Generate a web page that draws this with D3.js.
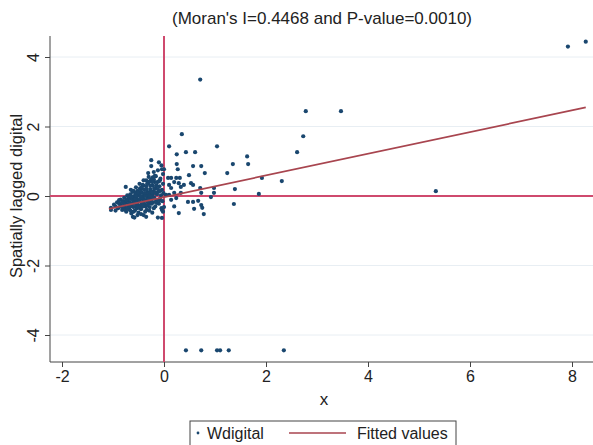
<!DOCTYPE html>
<html>
<head>
<meta charset="utf-8">
<script src="https://cdn.jsdelivr.net/npm/d3@7"></script>
<style>
  body { margin: 0; background: #fff; }
  text { font-family: "Liberation Sans", Arial, Helvetica, sans-serif; fill: #222; }
</style>
</head>
<body>
<div id="container"></div>
<script>
/*** DATA ***/
const titleText = "(Moran's I=0.4468 and P-value=0.0010)";
const xTicks = [-2, 0, 2, 4, 6, 8];
const yTicks = [-4, -2, 0, 2, 4];
const gridY = [-4, -2, 2, 4];

// Wdigital scatter: [x, spatially lagged digital]
const pointsLeft = [
  [-0.25,1.03],[-0.25,0.86],[-0.10,0.97],[-0.31,0.66],[-0.20,0.69],[-0.12,0.74],[-0.04,0.77],[-0.02,0.63],
  [-0.22,0.54],[-0.16,0.57],[-0.75,0.26],[-0.05,0.88],[-0.35,0.45],[-0.28,0.42],[-0.40,0.30],[-0.18,0.40],
  [-0.08,0.45],[-0.55,0.25],[-0.60,0.15],[-0.45,0.20],
  [-1.04,-0.34],[-1.04,-0.40],[-0.98,-0.25],[-0.95,-0.30],[-0.92,-0.18],[-0.90,-0.35],[-0.88,-0.22],
  [-0.85,-0.10],[-0.84,-0.28],[-0.82,-0.40],[-0.80,-0.15],[-0.78,-0.05],[-0.77,-0.32],[-0.75,-0.20],
  [-0.74,-0.45],[-0.72,0.02],[-0.71,-0.12],[-0.70,-0.28],
  [-0.68,-0.38],[-0.67,-0.18],[-0.66,0.05],[-0.65,-0.08],[-0.64,-0.50],[-0.63,-0.25],[-0.62,0.12],
  [-0.61,-0.60],[-0.60,-0.32],[-0.59,-0.02],[-0.58,-0.15],[-0.57,-0.42],[-0.56,0.08],[-0.55,-0.22],
  [-0.54,-0.05],[-0.53,-0.35],[-0.52,0.15],[-0.51,-0.12],[-0.50,-0.48],
  [-0.49,0.02],[-0.48,-0.28],[-0.47,0.22],[-0.46,-0.08],[-0.45,-0.38],[-0.44,0.10],[-0.43,-0.18],
  [-0.42,0.32],[-0.41,-0.02],[-0.40,-0.55],[-0.39,0.18],[-0.38,-0.25],[-0.37,0.05],[-0.36,-0.12],
  [-0.35,0.28],[-0.34,-0.40],[-0.33,0.12],[-0.32,-0.05],[-0.31,0.38],[-0.30,-0.22],
  [-0.29,0.08],[-0.28,-0.32],[-0.27,0.20],[-0.26,-0.10],[-0.25,0.48],[-0.24,0.02],[-0.23,-0.48],
  [-0.22,0.30],[-0.21,-0.18],[-0.20,0.14],[-0.19,-0.05],[-0.18,0.58],[-0.17,-0.30],[-0.16,0.22],
  [-0.15,-0.12],[-0.14,0.05],[-0.13,0.40],[-0.12,-0.62],[-0.11,0.12],[-0.10,-0.22],
  [-0.09,0.28],[-0.08,-0.08],[-0.07,0.50],[-0.06,0.02],[-0.05,-0.35],[-0.04,0.18],[-0.03,-0.15],
  [-0.02,0.35],[-0.02,-0.45],[-0.01,0.08],[-0.04,-0.40],[-0.04,-0.63],
  [-0.62,-0.10],[-0.58,0.00],[-0.55,-0.30],[-0.52,-0.20],[-0.50,0.05],[-0.48,-0.15],[-0.46,0.12],
  [-0.44,-0.25],[-0.42,0.00],[-0.40,-0.10],[-0.38,0.08],[-0.36,-0.30],[-0.34,0.20],[-0.32,-0.18],
  [-0.30,0.02],[-0.28,-0.05],[-0.26,0.15],[-0.24,-0.22],[-0.22,0.05],[-0.20,-0.35],[-0.66,-0.30],
  [-0.70,-0.05],[-0.74,-0.12],[-0.78,-0.25],[-0.82,-0.18],[-0.86,-0.30],[-0.60,-0.45],[-0.45,-0.52],
  [-0.35,-0.60],[-0.55,0.10],[-0.65,0.18],[-0.48,0.35],[-0.40,0.45],[-0.30,0.55],[-0.20,0.48],
  [-0.15,0.30],[-0.10,0.42],[-0.58,-0.62],[-0.52,-0.55],[-0.95,-0.42],
  [-0.69,-0.22],[-0.64,-0.02],[-0.61,-0.20],[-0.57,-0.08],[-0.53,-0.27],[-0.49,-0.10],[-0.47,-0.35],
  [-0.43,-0.05],[-0.41,-0.30],[-0.39,-0.15],[-0.37,-0.45],[-0.33,-0.28],[-0.31,-0.10],[-0.29,-0.42],
  [-0.27,0.00],[-0.25,-0.15],[-0.23,0.10],[-0.21,-0.05],[-0.19,0.22],[-0.17,0.10],[-0.14,-0.20],
  [-0.12,0.20],[-0.09,-0.12],[-0.07,0.15],[-0.55,0.00],[-0.51,0.10],[-0.46,0.00],[-0.44,0.25],
  [-0.36,0.00],[-0.33,0.35],[-0.27,0.30],[-0.23,0.40],[-0.80,-0.32],[-0.76,-0.40],[-0.72,-0.35],
  [-0.88,-0.12],[-0.66,-0.42],[-0.50,-0.30]
];
const pointsRight = [
  [0.25,1.20],[0.43,1.26],[0.61,1.26],[0.25,0.92],[0.57,0.86],[0.73,0.86],[0.27,0.77],[0.80,0.66],
  [0.00,0.77],[0.08,0.52],[0.14,0.52],[0.24,0.52],[0.31,0.52],[0.49,0.60],[0.53,0.37],[0.57,0.32],
  [0.20,0.40],[0.29,0.37],[0.33,0.26],[0.39,0.32],[0.10,0.32],[0.14,0.23],[0.71,0.23],[0.98,0.23],
  [0.98,0.09],[0.92,-0.03],[0.73,0.09],[0.33,0.09],[0.20,0.09],[0.04,0.03],[0.10,0.03],[0.14,-0.11],
  [0.24,-0.06],[0.47,-0.17],[0.57,-0.17],[0.67,-0.14],[0.73,-0.26],[0.75,-0.34],[0.20,-0.30],
  [0.59,-0.37],[0.29,-0.49],[0.78,-0.52],[0.00,-0.32],
  [0.35,1.78],[0.71,3.35],[0.10,1.43],[1.04,1.43],
  [1.63,1.14],[1.65,0.92],[1.35,0.92],[1.24,0.66],[1.92,0.52],[2.31,0.43],[1.39,0.20],[1.86,0.06],
  [1.37,-0.23],[2.61,1.26],[2.78,2.44],[3.47,2.44],[2.73,1.72],[5.33,0.14],[7.92,4.30],[8.27,4.44]
];
const pointsLow = [[0.43,-4.44],[0.73,-4.44],[1.04,-4.44],[1.10,-4.44],[1.27,-4.44],[2.35,-4.44]];

// fitted values line
const fitX = [-1.08, 8.27];
const fitY = [-0.37, 2.55];

const legendLabels = ["Wdigital", "Fitted values"];

/*** LAYOUT ***/
const width = 593, height = 445;
const plot = { left: 50, right: 600, top: 36, bottom: 362 };
const navy = "#1a476f", maroon = "#a8454f", refRed = "#cf4a6e";

const svg = d3.select("#container").append("svg")
  .attr("width", width).attr("height", height);

const x = d3.scaleLinear().domain([-2, 8]).range([62, 572]);
const y = d3.scaleLinear().domain([-4, 4]).range([335, 57]);

// grid
svg.selectAll("line.grid").data(gridY).join("line")
  .attr("class", "grid")
  .attr("x1", plot.left).attr("x2", plot.right)
  .attr("y1", d => y(d)).attr("y2", d => y(d))
  .attr("stroke", "#e8eef3").attr("stroke-width", 1);

// axes
const xAxis = d3.axisBottom(x).tickValues(xTicks).tickSize(5).tickPadding(4);
const gx = svg.append("g").attr("transform", `translate(0,${plot.bottom})`).call(xAxis);
gx.select(".domain").attr("d", `M${plot.left},0H${plot.right}`).attr("stroke", "#444");
gx.selectAll(".tick line").attr("stroke", "#444");
gx.selectAll(".tick text").attr("font-size", 16).attr("fill", "#222")
  .text(d => d < 0 ? "-" + Math.abs(d) : d);

const yAxis = d3.axisLeft(y).tickValues(yTicks).tickSize(5).tickPadding(0);
const gy = svg.append("g").attr("transform", `translate(${plot.left},0)`).call(yAxis);
gy.select(".domain").attr("d", `M0,${plot.top}V${plot.bottom}`).attr("stroke", "#444");
gy.selectAll(".tick line").attr("stroke", "#444");
gy.selectAll(".tick text").attr("font-size", 16).attr("fill", "#222")
  .attr("x", 0).attr("dy", 0)
  .attr("text-anchor", "middle")
  .attr("transform", "translate(-17,0) rotate(-90)")
  .attr("dominant-baseline", "central")
  .text(d => d < 0 ? "-" + Math.abs(d) : d);

// reference lines at 0
svg.append("line")
  .attr("x1", plot.left).attr("x2", plot.right)
  .attr("y1", y(0)).attr("y2", y(0))
  .attr("stroke", refRed).attr("stroke-width", 2);
svg.append("line")
  .attr("x1", x(0)).attr("x2", x(0))
  .attr("y1", plot.top).attr("y2", plot.bottom)
  .attr("stroke", refRed).attr("stroke-width", 2);

// points
const allPoints = pointsLeft.concat(pointsRight, pointsLow);
svg.selectAll("circle.pt").data(allPoints).join("circle")
  .attr("class", "pt")
  .attr("cx", d => x(d[0])).attr("cy", d => y(d[1]))
  .attr("r", 2.1).attr("fill", navy);

// fitted line
svg.append("path")
  .datum(fitX.map((v, i) => [v, fitY[i]]))
  .attr("d", d3.line().x(d => x(d[0])).y(d => y(d[1])))
  .attr("stroke", maroon).attr("stroke-width", 1.7).attr("fill", "none");

// title and axis labels
svg.append("text").text(titleText)
  .attr("x", 322).attr("y", 24).attr("text-anchor", "middle").attr("font-size", 17);
svg.append("text").text("x")
  .attr("x", 324).attr("y", 405).attr("text-anchor", "middle").attr("font-size", 17);
svg.append("text").text("Spatially lagged digital")
  .attr("transform", "translate(16,196) rotate(-90)")
  .attr("text-anchor", "middle").attr("dominant-baseline", "central").attr("font-size", 16.5);

// legend
const lg = svg.append("g");
lg.append("rect").attr("x", 190).attr("y", 421).attr("width", 266).attr("height", 30)
  .attr("fill", "#fff").attr("stroke", "#444").attr("stroke-width", 1);
lg.append("circle").attr("cx", 198).attr("cy", 433).attr("r", 1.4).attr("fill", navy);
lg.append("text").text(legendLabels[0]).attr("x", 207).attr("y", 439).attr("font-size", 16);
lg.append("line").attr("x1", 289).attr("x2", 346).attr("y1", 433).attr("y2", 433)
  .attr("stroke", maroon).attr("stroke-width", 1.7);
lg.append("text").text(legendLabels[1]).attr("x", 357).attr("y", 439).attr("font-size", 16);
</script>
</body>
</html>
